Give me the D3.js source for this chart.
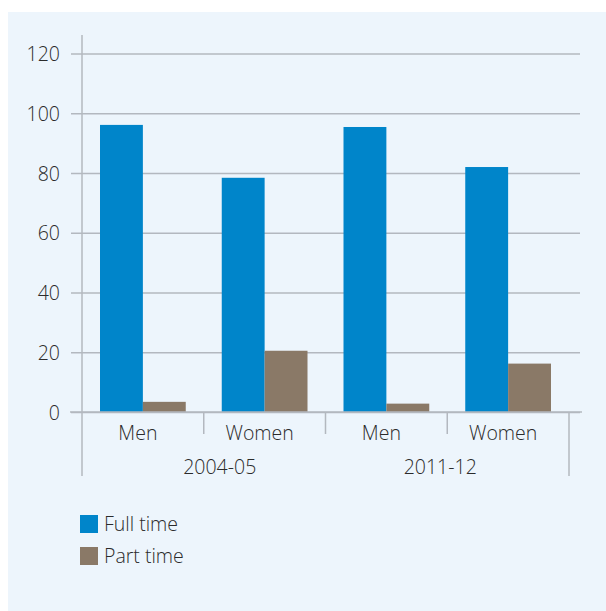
<!DOCTYPE html>
<html>
<head>
<meta charset="utf-8">
<script src="https://cdn.jsdelivr.net/npm/d3@7"></script>
<style>
  html, body { margin: 0; padding: 0; background: #ffffff; }
  svg { display: block; }
  text { font-family: "Open Sans", "Noto Sans", sans-serif; font-weight: 350; fill: #2b2b2b; }
</style>
</head>
<body>
<svg id="chart" width="606" height="611"></svg>
<script>
// Full-time / part-time shares by sex, two survey years
const years = ["2004-05", "2011-12"];
const sexes = ["Men", "Women"];
const seriesNames = ["Full time", "Part time"];
const fullTime = [96.1, 78.4, 95.4, 82.0];   // order: 2004-05 Men, Women, 2011-12 Men, Women
const partTime = [3.4, 20.5, 2.8, 16.2];
const yTicks = [0, 20, 40, 60, 80, 100, 120];
const colors = ["#0085ca", "#8a7967"];

const rows = [];
years.forEach((yr, i) => sexes.forEach((s, j) => {
  const k = i * sexes.length + j;
  rows.push({ key: yr + "|" + s, year: yr, sex: s, values: [fullTime[k], partTime[k]] });
}));

const svg = d3.select("#chart");
const fontSize = "19.5px";

// panel background
svg.append("rect").attr("x", 8).attr("y", 12).attr("width", 598).attr("height", 599)
  .attr("fill", "#edf5fc");

const x0 = 82, x1 = 569, yTop = 53.5, yZero = 412;
const x = d3.scaleBand().domain(rows.map(r => r.key)).range([x0, x1]).padding(0);
const xs = d3.scaleBand().domain(seriesNames).range([18, x.bandwidth() - 18]).padding(0);
const y = d3.scaleLinear().domain([0, 120]).range([yZero, yTop]);

// horizontal gridlines with y labels
const yAxis = d3.axisLeft(y).tickValues(yTicks).tickSize(-(580 - x0)).tickPadding(10).tickSizeOuter(0);
const gy = svg.append("g").attr("transform", `translate(${x0},0)`).call(yAxis);
gy.select(".domain").remove();
gy.selectAll(".tick line").attr("stroke", "#b3b8bf").attr("stroke-width", 1.5).attr("x1", -11);
gy.selectAll(".tick text").attr("x", -22).attr("dy", "0.36em").style("font-size", fontSize).attr("fill", "#2b2b2b");

// vertical axis line
svg.append("line").attr("x1", x0).attr("x2", x0).attr("y1", 35).attr("y2", 476)
  .attr("stroke", "#b3b8bf").attr("stroke-width", 1.5);

// bars
const g = svg.append("g");
rows.forEach(r => {
  g.selectAll(null).data(seriesNames.map((n, i) => ({ n, v: r.values[i], c: colors[i] })))
    .enter().append("rect")
    .attr("x", d => x(r.key) + xs(d.n))
    .attr("width", xs.bandwidth())
    .attr("y", d => y(d.v))
    .attr("height", d => y(0) - y(d.v))
    .attr("fill", d => d.c);
});

// x baseline
svg.append("line").attr("x1", 70).attr("x2", 582).attr("y1", y(0)).attr("y2", y(0))
  .attr("stroke", "#b3b8bf").attr("stroke-width", 1.5);

// category separators: short between sexes, long at the outer ends
const bounds = rows.map(r => x(r.key)).concat([x1]);
bounds.forEach((b, i) => {
  if (i === 0) return;
  const long = i === bounds.length - 1;
  svg.append("line").attr("x1", b).attr("x2", b).attr("y1", y(0)).attr("y2", long ? 476 : 434)
    .attr("stroke", "#b3b8bf").attr("stroke-width", 1.5);
});

// sex labels
svg.selectAll(".sexlab").data(rows).enter().append("text")
  .attr("x", d => x(d.key) + x.bandwidth() / 2 - 5)
  .attr("y", 440)
  .attr("text-anchor", "middle").style("font-size", fontSize)
  .text(d => d.sex);

// year labels
svg.selectAll(".yearlab").data(years).enter().append("text")
  .attr("x", (d, i) => {
    const a = x(d + "|" + sexes[0]), b = x(d + "|" + sexes[sexes.length - 1]) + x.bandwidth();
    return (a + b) / 2 + (i === 0 ? 16 : -7);
  })
  .attr("y", 474)
  .attr("text-anchor", "middle").style("font-size", fontSize)
  .text(d => d);

// legend
const lg = svg.append("g").attr("transform", "translate(80,515)");
seriesNames.forEach((n, i) => {
  lg.append("rect").attr("x", 0).attr("y", i * 32).attr("width", 18).attr("height", 18).attr("fill", colors[i]);
  lg.append("text").attr("x", 24).attr("y", i * 32 + 16).style("font-size", fontSize).text(n);
});
</script>
</body>
</html>
